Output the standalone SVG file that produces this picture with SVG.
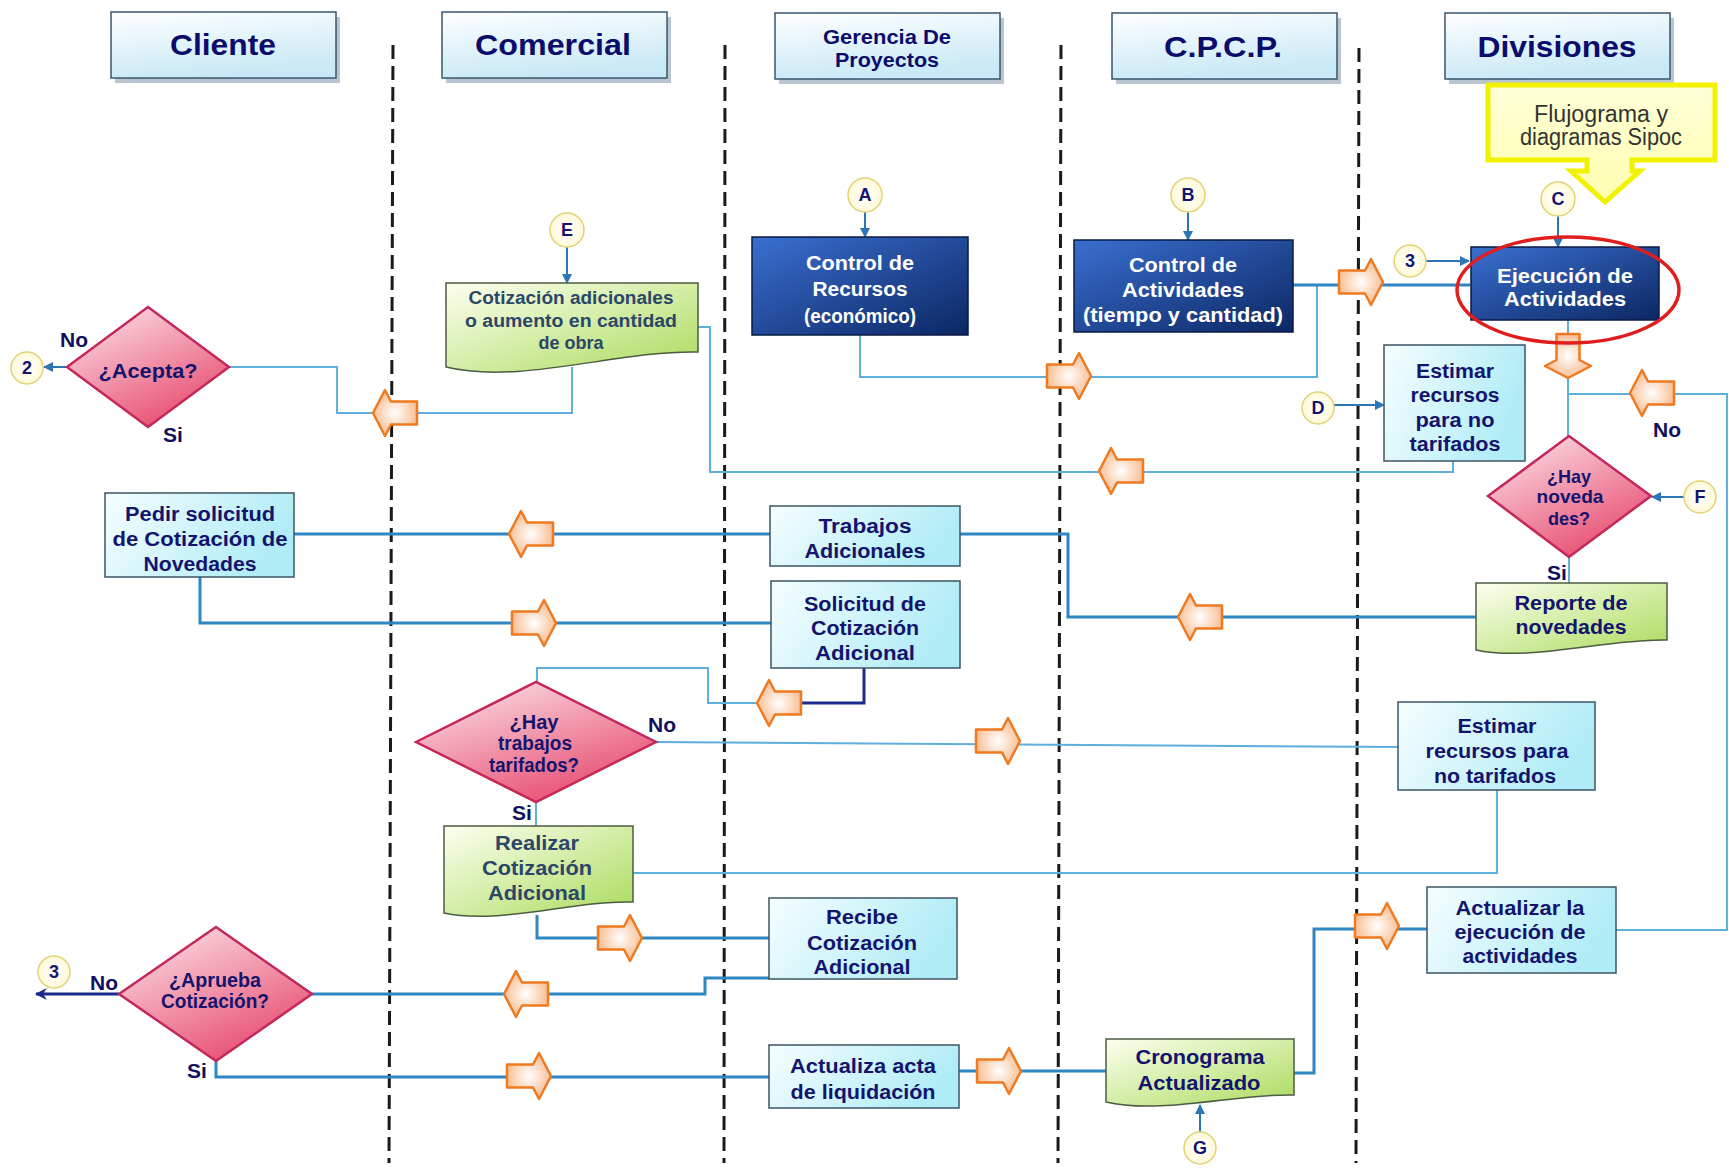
<svg xmlns="http://www.w3.org/2000/svg" width="1729" height="1169" viewBox="0 0 1729 1169">
<defs>
<linearGradient id="hg" x1="0" y1="0" x2="0.3" y2="1"><stop offset="0" stop-color="#ffffff"/><stop offset="1" stop-color="#c9e9f6"/></linearGradient>
<linearGradient id="cg" x1="0" y1="0" x2="1" y2="0.3"><stop offset="0" stop-color="#f6feff"/><stop offset="1" stop-color="#b0ecf6"/></linearGradient>
<linearGradient id="bg" x1="0" y1="0" x2="1" y2="1"><stop offset="0" stop-color="#3a6fd0"/><stop offset="1" stop-color="#0c2763"/></linearGradient>
<linearGradient id="pg" x1="0.2" y1="0" x2="0.8" y2="1"><stop offset="0" stop-color="#fbdce3"/><stop offset="1" stop-color="#e6426a"/></linearGradient>
<linearGradient id="gg" x1="0" y1="0" x2="1" y2="1"><stop offset="0" stop-color="#fdfff0"/><stop offset="1" stop-color="#aadb5c"/></linearGradient>
<radialGradient id="og" cx="0.5" cy="0.5" r="0.6"><stop offset="0" stop-color="#ffffff"/><stop offset="1" stop-color="#f7b27f"/></radialGradient>
<radialGradient id="yg" cx="0.5" cy="0.5" r="0.6"><stop offset="0" stop-color="#ffffff"/><stop offset="1" stop-color="#fff8d0"/></radialGradient>
<linearGradient id="cog" x1="0" y1="0" x2="0" y2="1"><stop offset="0" stop-color="#ffffd8"/><stop offset="1" stop-color="#ffffb0"/></linearGradient>
<marker id="ah" viewBox="0 0 10 10" refX="9" refY="5" markerWidth="10" markerHeight="10" markerUnits="userSpaceOnUse" orient="auto"><path d="M0,0 L10,5 L0,10 Z" fill="#2e75b6"/></marker>
<marker id="ahd" viewBox="0 0 10 10" refX="9" refY="5" markerWidth="12" markerHeight="12" markerUnits="userSpaceOnUse" orient="auto"><path d="M0,0 L10,5 L0,10 L3,5 Z" fill="#1c2a8c"/></marker>
<path id="oar" d="M-22,-11.5 L4,-11.5 L10,-23 L22,0 L10,23 L4,11.5 L-22,11.5 Z"/>
</defs>
<style>
.lane{stroke:#1a1a1a;stroke-width:3;stroke-dasharray:14 7;fill:none}
.cl{fill:none;stroke:#5eaede;stroke-width:2}
.cm{fill:none;stroke:#2f86c3;stroke-width:3}
.cd{fill:none;stroke:#1c2a8c;stroke-width:3}
.ca{fill:none;stroke:#2e75b6;stroke-width:2;marker-end:url(#ah)}
.oa{fill:url(#og);stroke:#ee7a22;stroke-width:2.5;stroke-linejoin:round}
.hdr{fill:url(#hg);stroke:#3a566e;stroke-width:1.5}
.shd{fill:#7f97ab;opacity:0.55}
.box{fill:url(#cg);stroke:#3b5566;stroke-width:1.5}
.dbox{fill:url(#bg);stroke:#0a1a44;stroke-width:1.5}
.dia{fill:url(#pg);stroke:#c4285a;stroke-width:2.5}
.doc{fill:url(#gg);stroke:#4c5c40;stroke-width:1.5}
.cir{fill:url(#yg);stroke:#e2d276;stroke-width:1.5}
.t{font-family:"Liberation Sans",Arial,sans-serif;font-weight:bold;text-anchor:middle;fill:#14146e;font-size:20px}
.th{font-size:30px;fill:#0c0c6c}
.tw{fill:#ffffff}
.ts{font-size:18px}
.td{fill:#2c4668}
.tc{font-size:19px}
.lbl{font-family:"Liberation Sans",Arial,sans-serif;font-weight:bold;font-size:21px;fill:#10105e}
</style>
<rect width="1729" height="1169" fill="#ffffff"/>

<g id="lanes">
<line class="lane" x1="393" y1="45" x2="389" y2="1163"/>
<line class="lane" x1="725" y1="45" x2="724" y2="1163"/>
<line class="lane" x1="1061" y1="45" x2="1058" y2="1163"/>
<line class="lane" x1="1359" y1="48" x2="1356" y2="1163"/>
</g>

<g id="headers">
<g id="h-cliente"><rect class="shd" x="115" y="17" width="225" height="66"/><rect class="hdr" x="111" y="12" width="225" height="66"/><text class="t th" x="223" y="55" textLength="106" lengthAdjust="spacingAndGlyphs">Cliente</text></g>
<g id="h-comercial"><rect class="shd" x="446" y="17" width="225" height="66"/><rect class="hdr" x="442" y="12" width="225" height="66"/><text class="t th" x="553" y="55" textLength="156" lengthAdjust="spacingAndGlyphs">Comercial</text></g>
<g id="h-gerencia"><rect class="shd" x="779" y="18" width="225" height="66"/><rect class="hdr" x="775" y="13" width="225" height="66"/><text class="t" x="887" y="44" textLength="128" lengthAdjust="spacingAndGlyphs" style="fill:#0c0c6c">Gerencia De</text><text class="t" x="887" y="67" textLength="104" lengthAdjust="spacingAndGlyphs" style="fill:#0c0c6c">Proyectos</text></g>
<g id="h-cpcp"><rect class="shd" x="1116" y="18" width="225" height="66"/><rect class="hdr" x="1112" y="13" width="225" height="66"/><text class="t th" x="1223" y="57" textLength="118" lengthAdjust="spacingAndGlyphs">C.P.C.P.</text></g>
<g id="h-divisiones"><rect class="shd" x="1449" y="18" width="225" height="66"/><rect class="hdr" x="1445" y="13" width="225" height="66"/><text class="t th" x="1557" y="57" textLength="159" lengthAdjust="spacingAndGlyphs">Divisiones</text></g>
</g>

<g id="connectors">
<path class="cl" d="M229,367 H337 V413 H572 V367"/>
<path class="ca" d="M67,367 H44"/>
<path class="ca" d="M567,247 V283"/>
<path class="cl" d="M698,327 H710 V472 H1453 V461"/>
<path class="cl" d="M860,335 V377 H1317 V285"/>
<path class="cm" d="M1293,285 H1470"/>
<path class="ca" d="M865,212 V237"/>
<path class="ca" d="M1188,212 V240"/>
<path class="ca" d="M1558,216 V247"/>
<path class="ca" d="M1426,261 H1469"/>
<path class="cl" d="M1568,320 V436"/>
<path class="ca" d="M1334,405 H1384"/>
<path class="cl" d="M1616,930 H1727 V394 H1568"/>
<path class="ca" d="M1684,497 H1652"/>
<path class="cl" d="M1569,557 V583"/>
<path class="cm" d="M1476,617 H1068 V534 H960"/>
<path class="cm" d="M770,534 H294"/>
<path class="cm" d="M200,577 V623 H771"/>
<path class="cd" d="M864,668 V703 H790"/>
<path class="cl" d="M760,703 H708 V668 H537 V682"/>
<path class="cl" d="M656,742 L1398,747"/>
<path class="cl" d="M536,802 V826"/>
<path class="cl" d="M1497,790 V873 H633"/>
<path class="cm" d="M537,915 V938 H769"/>
<path class="cm" d="M769,978 H705 V994 H312"/>
<path class="cd" d="M119,994 H36" style="marker-end:url(#ahd)"/>
<path class="cm" d="M216,1061 V1077 H769"/>
<path class="cm" d="M959,1071 H1106"/>
<path class="ca" d="M1200,1132 V1105"/>
<path class="cm" d="M1294,1073 H1314 V929 H1427"/>
<use href="#oar" class="oa" transform="translate(395,413) rotate(180)"/>
<use href="#oar" class="oa" transform="translate(1069,376)"/>
<use href="#oar" class="oa" transform="translate(1361,282)"/>
<use href="#oar" class="oa" transform="translate(1568,356) rotate(90)"/>
<use href="#oar" class="oa" transform="translate(1652,393) rotate(180)"/>
<use href="#oar" class="oa" transform="translate(1121,471) rotate(180)"/>
<use href="#oar" class="oa" transform="translate(531,534) rotate(180)"/>
<use href="#oar" class="oa" transform="translate(1200,617) rotate(180)"/>
<use href="#oar" class="oa" transform="translate(534,623)"/>
<use href="#oar" class="oa" transform="translate(779,703) rotate(180)"/>
<use href="#oar" class="oa" transform="translate(998,741)"/>
<use href="#oar" class="oa" transform="translate(620,938)"/>
<use href="#oar" class="oa" transform="translate(526,994) rotate(180)"/>
<use href="#oar" class="oa" transform="translate(529,1076)"/>
<use href="#oar" class="oa" transform="translate(999,1071)"/>
<use href="#oar" class="oa" transform="translate(1377,926)"/>
</g>

<g id="n-callout">
<path d="M1488,85 H1715 V160 H1632 V171 H1640 L1605,202 L1571,171 H1587 V160 H1488 Z" fill="url(#cog)" stroke="#f2f200" stroke-width="5" stroke-linejoin="miter"/>
<text x="1601" y="122" textLength="134" lengthAdjust="spacingAndGlyphs" style="font-family:'Liberation Sans',Arial,sans-serif;font-size:23px;fill:#333333;text-anchor:middle">Flujograma y</text>
<text x="1601" y="145" textLength="162" lengthAdjust="spacingAndGlyphs" style="font-family:'Liberation Sans',Arial,sans-serif;font-size:23px;fill:#333333;text-anchor:middle">diagramas Sipoc</text>
</g>

<g id="n-acepta"><path class="dia" d="M67,367 L148,307 L229,367 L148,427 Z"/><text class="t" x="148" y="378" style="font-size:21px" textLength="99" lengthAdjust="spacingAndGlyphs">¿Acepta?</text>
<text class="lbl" x="60" y="347">No</text><text class="lbl" x="163" y="442">Si</text></g>
<g id="n-c2"><circle class="cir" cx="27" cy="368" r="16"/><text class="t ts" x="27" y="374">2</text></g>

<g id="n-cotizacion"><path class="doc" d="M446,283 H698 V352 C620,350 520,385 446,367 Z"/>
<text class="t td" x="571" y="304" style="font-size:18px" textLength="205" lengthAdjust="spacingAndGlyphs">Cotización adicionales</text>
<text class="t td" x="571" y="327" style="font-size:18px" textLength="212" lengthAdjust="spacingAndGlyphs">o aumento en cantidad</text>
<text class="t td" x="571" y="349" style="font-size:18px" textLength="65" lengthAdjust="spacingAndGlyphs">de obra</text></g>
<g id="n-cE"><circle class="cir" cx="567" cy="230" r="17"/><text class="t ts" x="567" y="236">E</text></g>

<g id="n-recursos"><rect class="dbox" x="752" y="237" width="216" height="98"/>
<text class="t tw" x="860" y="270" textLength="108" lengthAdjust="spacingAndGlyphs">Control de</text>
<text class="t tw" x="860" y="296" textLength="95" lengthAdjust="spacingAndGlyphs">Recursos</text>
<text class="t tw" x="860" y="323" textLength="112" lengthAdjust="spacingAndGlyphs">(económico)</text></g>
<g id="n-cA"><circle class="cir" cx="865" cy="195" r="17"/><text class="t ts" x="865" y="201">A</text></g>

<g id="n-actividades"><rect class="dbox" x="1074" y="240" width="219" height="92"/>
<text class="t tw" x="1183" y="272" textLength="108" lengthAdjust="spacingAndGlyphs">Control de</text>
<text class="t tw" x="1183" y="297" textLength="122" lengthAdjust="spacingAndGlyphs">Actividades</text>
<text class="t tw" x="1183" y="322" textLength="200" lengthAdjust="spacingAndGlyphs">(tiempo y cantidad)</text></g>
<g id="n-cB"><circle class="cir" cx="1188" cy="195" r="17"/><text class="t ts" x="1188" y="201">B</text></g>

<g id="n-ejecucion"><rect class="dbox" x="1471" y="247" width="188" height="73"/>
<text class="t tw" x="1565" y="283" textLength="136" lengthAdjust="spacingAndGlyphs">Ejecución de</text>
<text class="t tw" x="1565" y="306" textLength="122" lengthAdjust="spacingAndGlyphs">Actividades</text>
<ellipse cx="1568" cy="290" rx="111" ry="53" fill="none" stroke="#e01e1e" stroke-width="3.5"/></g>
<g id="n-cC"><circle class="cir" cx="1558" cy="199" r="17"/><text class="t ts" x="1558" y="205">C</text></g>
<g id="n-c3a"><circle class="cir" cx="1410" cy="261" r="16"/><text class="t ts" x="1410" y="267">3</text></g>

<g id="n-estimar1"><rect class="box" x="1384" y="345" width="141" height="116"/>
<text class="t" x="1455" y="378" textLength="78" lengthAdjust="spacingAndGlyphs">Estimar</text>
<text class="t" x="1455" y="402" textLength="89" lengthAdjust="spacingAndGlyphs">recursos</text>
<text class="t" x="1455" y="427" textLength="79" lengthAdjust="spacingAndGlyphs">para no</text>
<text class="t" x="1455" y="451" textLength="91" lengthAdjust="spacingAndGlyphs">tarifados</text></g>
<g id="n-cD"><circle class="cir" cx="1318" cy="408" r="16"/><text class="t ts" x="1318" y="414">D</text></g>

<g id="n-novedades"><path class="dia" d="M1488,496 L1569,436 L1651,496 L1569,557 Z"/>
<text class="t tc" x="1569" y="483" textLength="44" lengthAdjust="spacingAndGlyphs">¿Hay</text>
<text class="t tc" x="1570" y="503" textLength="67" lengthAdjust="spacingAndGlyphs">noveda</text>
<text class="t tc" x="1569" y="525" textLength="42" lengthAdjust="spacingAndGlyphs">des?</text>
<text class="lbl" x="1653" y="437">No</text><text class="lbl" x="1547" y="580">Si</text></g>
<g id="n-cF"><circle class="cir" cx="1700" cy="497" r="16"/><text class="t ts" x="1700" y="503">F</text></g>

<g id="n-reporte"><path class="doc" d="M1476,583 H1667 V640 C1610,638 1530,662 1476,650 Z"/>
<text class="t" x="1571" y="610" textLength="113" lengthAdjust="spacingAndGlyphs">Reporte de</text>
<text class="t" x="1571" y="634" textLength="111" lengthAdjust="spacingAndGlyphs">novedades</text></g>

<g id="n-trabajos"><rect class="box" x="770" y="506" width="190" height="60"/>
<text class="t" x="865" y="533" textLength="93" lengthAdjust="spacingAndGlyphs">Trabajos</text>
<text class="t" x="865" y="558" textLength="121" lengthAdjust="spacingAndGlyphs">Adicionales</text></g>

<g id="n-pedir"><rect class="box" x="105" y="493" width="189" height="84"/>
<text class="t" x="200" y="521" textLength="150" lengthAdjust="spacingAndGlyphs">Pedir solicitud</text>
<text class="t" x="200" y="546" textLength="175" lengthAdjust="spacingAndGlyphs">de Cotización de</text>
<text class="t" x="200" y="571" textLength="113" lengthAdjust="spacingAndGlyphs">Novedades</text></g>

<g id="n-solicitud"><rect class="box" x="771" y="581" width="189" height="87"/>
<text class="t" x="865" y="611" textLength="122" lengthAdjust="spacingAndGlyphs">Solicitud de</text>
<text class="t" x="865" y="635" textLength="108" lengthAdjust="spacingAndGlyphs">Cotización</text>
<text class="t" x="865" y="660" textLength="100" lengthAdjust="spacingAndGlyphs">Adicional</text></g>

<g id="n-tarifados"><path class="dia" d="M416,742 L536,682 L656,742 L536,802 Z"/>
<text class="t" x="534" y="729" style="font-size:20px" textLength="49" lengthAdjust="spacingAndGlyphs">¿Hay</text>
<text class="t" x="535" y="750" style="font-size:20px" textLength="74" lengthAdjust="spacingAndGlyphs">trabajos</text>
<text class="t" x="534" y="772" style="font-size:20px" textLength="90" lengthAdjust="spacingAndGlyphs">tarifados?</text>
<text class="lbl" x="648" y="732">No</text><text class="lbl" x="512" y="820">Si</text></g>

<g id="n-estimar2"><rect class="box" x="1398" y="702" width="197" height="88"/>
<text class="t" x="1497" y="733" textLength="79" lengthAdjust="spacingAndGlyphs">Estimar</text>
<text class="t" x="1497" y="758" textLength="143" lengthAdjust="spacingAndGlyphs">recursos para</text>
<text class="t" x="1495" y="783" textLength="122" lengthAdjust="spacingAndGlyphs">no tarifados</text></g>

<g id="n-realizar"><path class="doc" d="M444,826 H633 V902 C575,900 500,925 444,913 Z"/>
<text class="t td" x="537" y="850" textLength="84" lengthAdjust="spacingAndGlyphs">Realizar</text>
<text class="t td" x="537" y="875" textLength="110" lengthAdjust="spacingAndGlyphs">Cotización</text>
<text class="t td" x="537" y="900" textLength="98" lengthAdjust="spacingAndGlyphs">Adicional</text></g>

<g id="n-recibe"><rect class="box" x="769" y="898" width="188" height="81"/>
<text class="t" x="862" y="924" textLength="72" lengthAdjust="spacingAndGlyphs">Recibe</text>
<text class="t" x="862" y="950" textLength="110" lengthAdjust="spacingAndGlyphs">Cotización</text>
<text class="t" x="862" y="974" textLength="97" lengthAdjust="spacingAndGlyphs">Adicional</text></g>

<g id="n-aprueba"><path class="dia" d="M119,994 L216,927 L312,994 L216,1061 Z"/>
<text class="t" x="215" y="987" style="font-size:20px" textLength="92" lengthAdjust="spacingAndGlyphs">¿Aprueba</text>
<text class="t" x="215" y="1008" style="font-size:20px" textLength="108" lengthAdjust="spacingAndGlyphs">Cotización?</text>
<text class="lbl" x="90" y="990">No</text><text class="lbl" x="187" y="1078">Si</text></g>
<g id="n-c3b"><circle class="cir" cx="54" cy="972" r="16"/><text class="t ts" x="54" y="978">3</text></g>

<g id="n-acta"><rect class="box" x="769" y="1045" width="190" height="63"/>
<text class="t" x="863" y="1073" textLength="146" lengthAdjust="spacingAndGlyphs">Actualiza acta</text>
<text class="t" x="863" y="1099" textLength="145" lengthAdjust="spacingAndGlyphs">de liquidación</text></g>

<g id="n-cronograma"><path class="doc" d="M1106,1039 H1294 V1095 C1240,1093 1160,1115 1106,1102 Z"/>
<text class="t" x="1200" y="1064" textLength="129" lengthAdjust="spacingAndGlyphs">Cronograma</text>
<text class="t" x="1199" y="1090" textLength="123" lengthAdjust="spacingAndGlyphs">Actualizado</text></g>
<g id="n-cG"><circle class="cir" cx="1200" cy="1148" r="16"/><text class="t ts" x="1200" y="1154">G</text></g>

<g id="n-actualizar"><rect class="box" x="1427" y="887" width="189" height="86"/>
<text class="t" x="1520" y="915" textLength="129" lengthAdjust="spacingAndGlyphs">Actualizar la</text>
<text class="t" x="1520" y="939" textLength="131" lengthAdjust="spacingAndGlyphs">ejecución de</text>
<text class="t" x="1520" y="963" textLength="115" lengthAdjust="spacingAndGlyphs">actividades</text></g>
</svg>
